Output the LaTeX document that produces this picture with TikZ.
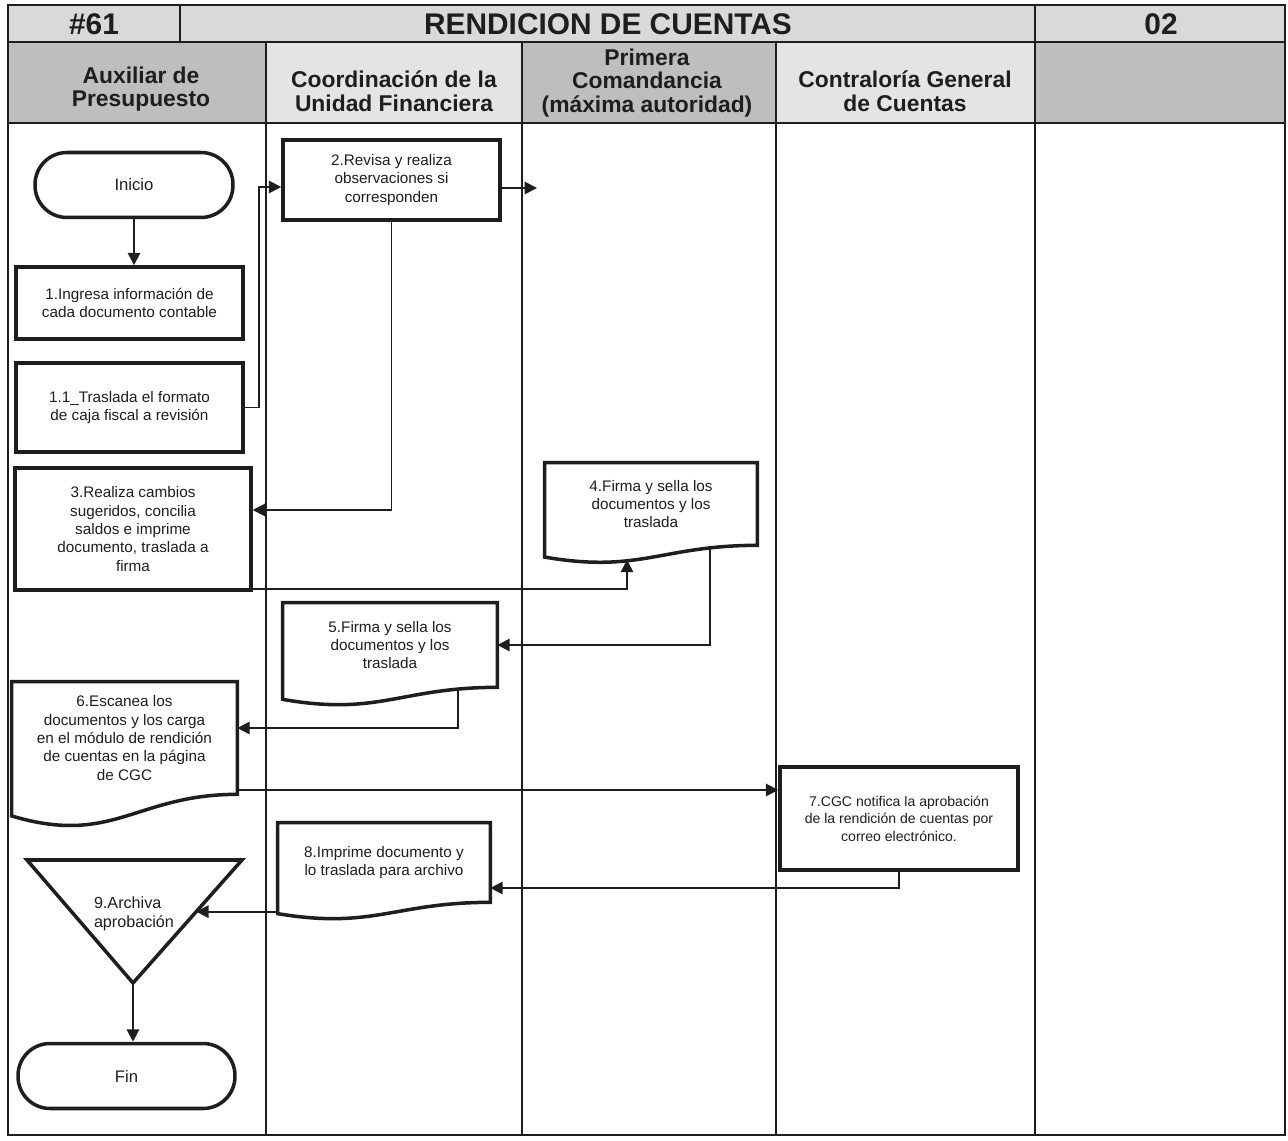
\documentclass[tikz,border=0pt]{standalone}
\usepackage{fontspec}
\setmainfont{Liberation Sans}
\usetikzlibrary{arrows.meta,calc}

\definecolor{ink}{HTML}{1E1E1E}
\definecolor{titlegray}{HTML}{D9D9D9}
\definecolor{hdrdark}{HTML}{BEBEBE}
\definecolor{hdrlight}{HTML}{E4E4E4}

% document symbol: box with a wavy lower edge hanging below the node
\newcommand{\docshape}[2][0.2]{%
  \draw[boxline] let \p1=(#2.south west), \p2=(#2.north east),
    \n1={(\y2-\y1)*#1}, \n2={\x2-\x1} in
    (\x1,\y2) -- (\x2,\y2) -- (\x2,\y1)
    .. controls (\x1+0.55*\n2,\y1) and (\x1+0.45*\n2,\y1-1.71*\n1)
    .. (\x1,\y1-0.71*\n1) -- cycle;}

\begin{document}
\begin{tikzpicture}[x=0.02cm,y=-0.02cm,>={Triangle[length=7pt,width=7pt]},
  every node/.style={text=ink,align=center,inner sep=1pt,font=\fontsize{8.7}{10.5}\selectfont},
  frame/.style={draw=ink,line width=1.2pt},
  grid/.style={draw=ink,line width=0.6pt},
  boxline/.style={draw=ink,line width=2pt},
  process/.style={boxline,rectangle},
  terminal/.style={boxline,rectangle,rounded corners=0.64cm,minimum height=1.3cm,
    font=\fontsize{9.5}{11}\selectfont},
  docbox/.style={rectangle},
  flow/.style={draw=ink,line width=1.1pt,->},
  titletext/.style={font=\bfseries\fontsize{17}{20}\selectfont},
  lanehead/.style={font=\bfseries\fontsize{13}{13.5}\selectfont}]

  \useasboundingbox (0,0) rectangle (1288,1141);

  \fill[titlegray] (8,5) rectangle (1285,42);
  \fill[hdrdark] (8,42) rectangle (266,123);
  \fill[hdrlight] (266,42) rectangle (522,123);
  \fill[hdrdark] (522,42) rectangle (776,123);
  \fill[hdrlight] (776,42) rectangle (1035,123);
  \fill[hdrdark] (1035,42) rectangle (1285,123);

  \draw[frame] (8,5) rectangle (1285,1135);
  \draw[frame] (8,42) -- (1285,42);
  \draw[frame] (8,123) -- (1285,123);
  \draw[grid] (180,5) -- (180,42);
  \draw[frame] (1035,5) -- (1035,42);
  \foreach \c in {266,522,776,1035}
    \draw[grid] (\c,42) -- (\c,1135);

  \node[titletext] (num) at (94,24) {\#61};
  \node[titletext] (titulo) at (608,24) {RENDICION DE CUENTAS};
  \node[titletext] (hoja) at (1161,24) {02};

  \node[lanehead] (lane1) at (141,89) {Auxiliar de\\Presupuesto};
  \node[lanehead] (lane2) at (394,91) {Coordinación de la\\Unidad Financiera};
  \node[lanehead] (lane3) at (647,83) {Primera\\Comandancia\\(máxima autoridad)};
  \node[lanehead] (lane4) at (905,91) {Contraloría General\\de Cuentas};

  % pasos
  \node[terminal,minimum width=3.96cm] (inicio) at (134,185) {Inicio};
  \node[process,minimum width=4.54cm,minimum height=1.44cm] (ingresa) at (129.5,303)
    {1.Ingresa información de\\cada documento contable};
  \node[process,minimum width=4.54cm,minimum height=1.78cm] (traslada) at (129.5,407.5)
    {1.1\_Traslada el formato\\de caja fiscal a revisión};
  \node[process,minimum width=4.34cm,minimum height=1.6cm] (revisa) at (391.5,180)
    {2.Revisa y realiza\\observaciones si\\corresponden};
  \node[process,minimum width=4.72cm,minimum height=2.44cm] (realiza) at (133,529)
    {3.Realiza cambios\\sugeridos, concilia\\saldos e imprime\\documento, traslada a\\firma};
  \node[docbox,minimum width=4.24cm,minimum height=1.64cm] (firma) at (651,504)
    {4.Firma y sella los\\documentos y los\\traslada};
  \node[docbox,minimum width=4.28cm,minimum height=1.68cm] (sella) at (390,645)
    {5.Firma y sella los\\documentos y los\\traslada};
  \node[docbox,minimum width=4.5cm,minimum height=2.24cm] (escanea) at (124.5,738)
    {6.Escanea los\\documentos y los carga\\en el módulo de rendición\\de cuentas en la página\\de CGC};
  \node[process,minimum width=4.76cm,minimum height=2.06cm,font=\fontsize{8}{10}\selectfont]
    (notifica) at (899,818.5)
    {7.CGC notifica la aprobación\\de la rendición de cuentas por\\correo electrónico.};
  \node[docbox,minimum width=4.24cm,minimum height=1.58cm] (imprime) at (384,862.5)
    {8.Imprime documento y\\lo traslada para archivo};
  \node[terminal,minimum width=4.34cm] (fin) at (126.5,1076) {Fin};

  \docshape{firma}
  \docshape{sella}
  \docshape[0.27]{escanea}
  \docshape{imprime}

  \coordinate (t1) at (27,860);
  \coordinate (t2) at (242,860);
  \coordinate (t3) at (133,983);
  \draw[boxline] (t1) -- (t2) -- (t3) -- cycle;
  \node[align=left,font=\fontsize{9.2}{10.5}\selectfont] (archiva) at (134,914)
    {9.Archiva\\aprobación};

  \coordinate (salida) at (537,188);
  \coordinate (a9) at ($(t2)!0.42!(t3)$);
  \coordinate (e6) at ([yshift=-1.04cm]escanea.east);

  \draw[flow] (inicio.south) -- (inicio.south |- ingresa.north);
  \draw[flow] (traslada.east) -- ++(14,0) |- ([yshift=-0.14cm]revisa.west);
  \draw[flow] (revisa.east |- salida) -- (salida);
  \draw[flow] (revisa.south) |- ([yshift=0.38cm]realiza.east);
  \draw[flow] ([yshift=0.06cm]realiza.south east) -| ([xshift=-0.48cm,yshift=-0.29cm]firma.south);
  \draw[flow] ([xshift=1.18cm,yshift=-0.06cm]firma.south) |- (sella.east);
  \draw[flow] ([xshift=1.36cm,yshift=-0.04cm]sella.south) |- ([yshift=0.2cm]escanea.east);
  \draw[flow] (e6) -- (e6 -| notifica.west);
  \draw[flow] (notifica.south) |- ([yshift=-0.51cm]imprime.east);
  \draw[flow] (a9 -| imprime.west) -- (a9);
  \draw[flow] (t3) -- (t3 |- fin.north);

\end{tikzpicture}
\end{document}
